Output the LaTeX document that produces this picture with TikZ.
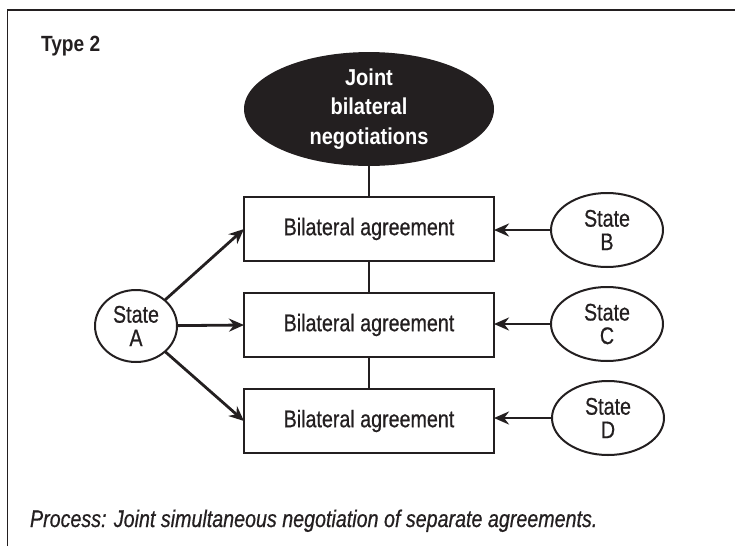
\documentclass[tikz,border=0pt]{standalone}
\usepackage{fontspec}
\setmainfont{Liberation Sans}
\newfontfamily\regnarrow[FakeStretch=0.82, FakeBold=0.6]{Liberation Sans}
\newfontfamily\boldnarrow[FakeStretch=0.87]{Liberation Sans}
\usetikzlibrary{shapes.geometric, arrows.meta}
\definecolor{ink}{RGB}{35,31,32}

\begin{document}
\begin{tikzpicture}[x=1pt, y=-1pt,
  every node/.style={inner sep=0pt, outer sep=0pt, text=ink},
  agreement/.style={draw=ink, line width=2.4pt, minimum width=250pt, minimum height=64pt,
    font=\regnarrow\fontsize{24}{24}\selectfont},
  statenode/.style={draw=ink, ellipse, line width=2pt, align=center,
    minimum width=112pt, minimum height=74pt,
    font=\regnarrow\fontsize{24}{23.5}\selectfont},
  link/.style={draw=ink, line width=2.8pt},
  arrowlink/.style={link, -{Stealth[length=15pt, width=13pt]}},
]
\useasboundingbox (0,0) rectangle (735,546);

% frame (open on the right and at the bottom)
\draw[ink, line width=1.8pt] (7.5,546) -- (7.5,10) -- (735,10);

\node[anchor=base west, font=\boldnarrow\bfseries\fontsize{22}{22}\selectfont] (type) at (41,51) {Type 2};

% central negotiation
\node[ellipse, fill=ink, minimum width=250pt, minimum height=112pt, align=center,
      text=white, font=\boldnarrow\bfseries\fontsize{23}{29.5}\selectfont]
  (joint) at (369,109) {Joint\\bilateral\\negotiations};

% the three agreements
\node[agreement] (ag1) at (369,229) {Bilateral agreement};
\node[agreement] (ag2) at (369,325) {Bilateral agreement};
\node[agreement] (ag3) at (369,421) {Bilateral agreement};

% states
\node[statenode, minimum width=82pt, minimum height=72pt] (sA) at (136,326) {State\\A};
\node[statenode] (sB) at (607,230) {State\\B};
\node[statenode] (sC) at (607,324) {State\\C};
\node[statenode] (sD) at (608,418) {State\\D};

% vertical spine
\draw[link] (joint) -- (ag1);
\draw[link] (ag1) -- (ag2);
\draw[link] (ag2) -- (ag3);

% arrows
\draw[arrowlink] (sA) -- (ag1.west);
\draw[arrowlink] (sA) -- (ag2.west);
\draw[arrowlink] (sA) -- (ag3.west);
\draw[arrowlink] (sB) -- (sB -| ag1.east);
\draw[arrowlink] (sC) -- (sC -| ag2.east);
\draw[arrowlink] (sD) -- (sD -| ag3.east);

\node[anchor=base west, font=\regnarrow\itshape\fontsize{24}{24}\selectfont] (caption) at (30,527)
  {Process: Joint simultaneous negotiation of separate agreements.};
\end{tikzpicture}
\end{document}
